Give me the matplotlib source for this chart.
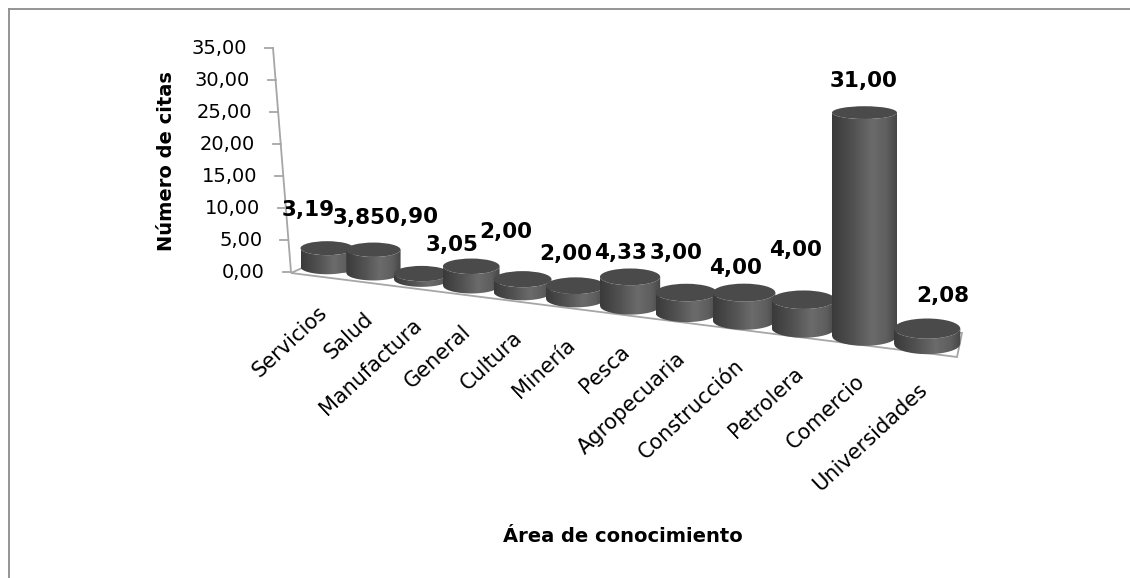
import numpy as np
import matplotlib
matplotlib.use("Agg")
import matplotlib.pyplot as plt
from matplotlib.patches import Ellipse, Polygon
from matplotlib.colors import LinearSegmentedColormap

# --- data ---
CATEGORIES = ["Servicios", "Salud", "Manufactura", "General", "Cultura", "Minería",
              "Pesca", "Agropecuaria", "Construcción", "Petrolera", "Comercio",
              "Universidades"]
VALUES = [3.19, 3.85, 0.90, 3.05, 2.00, 2.00, 4.33, 3.00, 4.00, 4.00, 31.00, 2.08]
Y_TICKS = [0, 5, 10, 15, 20, 25, 30, 35]

# --- fake 3D layout (pixel space, y grows downwards) ---
W, H = 1130, 578
X0, STEP, GROW = 327, 45.65, 0.81       # column centre positions
Y0, SLOPE = 267, 0.128                  # base line of the columns
R0, R_GROW = 26.5, 0.6                  # column half width
K0, K_GROW = 5.9, 0.13                  # pixels per unit, grows toward viewer
AXIS_TOP = (273, 48)                    # value axis: 35 at top, 0 at bottom
AXIS_BOT = (291, 272)
FLOOR = [(291, 273), (302, 268), (962, 333), (957, 357)]
LABEL_NUDGE = [(-19, -38), (-14, -32), (-10, -57), (-19, -21), (-17, -47), (-10, -32),
               (-10, -24), (-10, -40), (-9, -25), (-8, -50), (-1, -32), (16, -33)]

BODY_CMAP = LinearSegmentedColormap.from_list(
    "cyl", [(0, "#3a3a3a"), (0.35, "#535353"), (0.62, "#6b6b6b"),
            (0.85, "#5e5e5e"), (1, "#464646")])
TOP_COLOR = "#4a4a4a"
LINE_GRAY = "#a6a6a6"


def col_x(i):
    return X0 + STEP * i + GROW * i ** 2


def base_y(x):
    return Y0 + SLOPE * (x - X0)


def flat(rx, y):
    # ellipses get flatter the higher they sit on screen
    return rx * (0.14 + 0.0005 * y)


def axis_point(v):
    f = v / 35.0
    return (AXIS_BOT[0] + f * (AXIS_TOP[0] - AXIS_BOT[0]),
            AXIS_BOT[1] + f * (AXIS_TOP[1] - AXIS_BOT[1]))


def draw_cylinder(ax, i, value, z):
    cx = col_x(i)
    rx = R0 + R_GROW * i
    by = base_y(cx)
    ty = by - value * (K0 + K_GROW * i)
    ry_b, ry_t = flat(rx, by), flat(rx, ty)

    t = np.linspace(-1, 1, 80)
    arc = np.sqrt(1 - t ** 2)
    xs = cx + rx * t
    verts = np.vstack([np.column_stack([xs, ty + ry_t * arc]),
                       np.column_stack([xs[::-1], by + ry_b * arc[::-1]])])
    body = Polygon(verts, closed=True, facecolor="none", edgecolor="none")
    ax.add_patch(body)
    im = ax.imshow(np.linspace(0, 1, 200)[None, :], cmap=BODY_CMAP, aspect="auto",
                   extent=[cx - rx, cx + rx, by + ry_b + 1, ty - ry_t - 1],
                   interpolation="bilinear", zorder=z)
    im.set_clip_path(body)
    ax.add_patch(Ellipse((cx, ty), 2 * rx, 2 * ry_t, facecolor=TOP_COLOR,
                         edgecolor="none", zorder=z + 0.5))
    return cx, ty, by


fig = plt.figure(figsize=(W / 100, H / 100), dpi=100)
ax = fig.add_axes([0, 0, 1, 1])

# chart border (right and bottom edges fall outside the picture)
ax.plot([8.5, W], [8.5, 8.5], color="#8c8c8c", lw=1.3)
ax.plot([8.5, 8.5], [8.5, H], color="#8c8c8c", lw=1.3)

# floor
ax.add_patch(Polygon(FLOOR, closed=True, facecolor="white", edgecolor=LINE_GRAY,
                     lw=1.3, zorder=2))

# value axis
ax.plot([AXIS_TOP[0], AXIS_BOT[0]], [AXIS_TOP[1], AXIS_BOT[1]], color=LINE_GRAY,
        lw=1.3, zorder=3)
for v in Y_TICKS:
    x, y = axis_point(v)
    ax.plot([x - 8, x], [y, y], color=LINE_GRAY, lw=1.3, zorder=3)
    ax.text(x - 26, y, f"{v:.2f}".replace(".", ","), ha="right", va="center",
            fontsize=14)

# columns, left (far) to right (near)
for i, (cat, val) in enumerate(zip(CATEGORIES, VALUES)):
    cx, ty, by = draw_cylinder(ax, i, val, 10 + 2 * i)
    dx, dy = LABEL_NUDGE[i]
    ax.text(cx + dx, ty + dy, f"{val:.2f}".replace(".", ","), ha="center",
            va="center", fontsize=15.5, fontweight="bold", zorder=100)
    ax.text(cx - 3, by + 43, cat, rotation=43, rotation_mode="anchor",
            ha="right", va="center", fontsize=15, zorder=100)

ax.text(166, 161, "Número de citas", rotation=90, ha="center", va="center",
        fontsize=14, fontweight="bold")
ax.text(623, 536, "Área de conocimiento", ha="center", va="center",
        fontsize=14, fontweight="bold")

ax.set_xlim(0, W)
ax.set_ylim(H, 0)
ax.axis("off")
fig.savefig("out.png", dpi=100, facecolor="white")
